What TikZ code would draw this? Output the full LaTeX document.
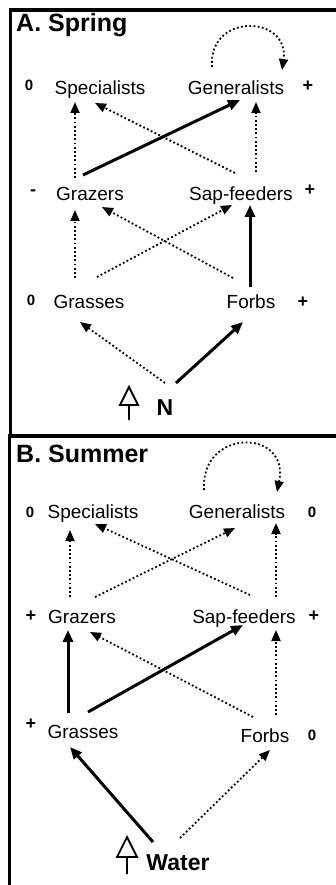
\documentclass[tikz,border=0pt]{standalone}
\usepackage{fontspec}
\setmainfont{Liberation Sans}
\usetikzlibrary{arrows.meta}
\begin{document}
\begin{tikzpicture}[x=1pt,y=-1pt,
  lbl/.style={font=\fontsize{19}{19}\selectfont, inner sep=0pt, anchor=base},
  sgn/.style={font=\bfseries\fontsize{15}{15}\selectfont, inner sep=0pt, anchor=center},
  psgn/.style={font=\bfseries\fontsize{18}{18}\selectfont, inner sep=0pt, anchor=center},
  ttl/.style={font=\bfseries\fontsize{25}{25}\selectfont, inner sep=0pt, anchor=base west},
  drv/.style={font=\bfseries\fontsize{23}{23}\selectfont, inner sep=0pt, anchor=base},
  dotarr/.style={line width=1.8pt, dash pattern=on 1.8pt off 2.4pt, -{Triangle[length=11pt,width=9pt]}},
  solarr/.style={line width=3pt, -{Triangle[length=12pt,width=10pt]}},
  border/.style={line width=3.5pt},
  uparr/.style={line width=1.8pt, line join=miter}
]
\useasboundingbox (0,0) rectangle (336,885);
% panel borders
\draw[line width=2.5pt] (10.5,9) -- (10.5,436);
\draw[border] (9,10) -- (336,10);
\draw[line width=3pt] (9,436) -- (9,885);
\draw[border] (7.5,436) -- (336,436);

% ---------------- Panel A ----------------
\node[ttl] (titleA) at (16,32) {A. Spring};
\node[lbl] (specA) at (100,95) {Specialists};
\node[lbl] (genA) at (236,95) {Generalists};
\node[lbl] (grazA) at (90,201) {Grazers};
\node[lbl] (sapA) at (241,201) {Sap-feeders};
\node[lbl] (grasA) at (89,308) {Grasses};
\node[lbl] (forbA) at (251,308) {Forbs};
\node[drv] (nA) at (165,415) {N};
\node[sgn] (sSpecA) at (29,85) {0};
\node[psgn] (sGenA) at (308,86) {+};
\node[psgn] (sGrazA) at (33,193) {-};
\node[psgn] (sSapA) at (310,190) {+};
\node[sgn] (sGrasA) at (31,300) {0};
\node[psgn] (sForbA) at (303,302) {+};
\draw[uparr] (120,405) -- (129,387) -- (138,405) -- cycle (129,405) -- (129,420);

\draw[dotarr] ([shift={(-15,-23)}]grazA.base) -- ([shift={(-25,7)}]specA.base);
\draw[solarr] ([shift={(-7,-26)}]grazA.base) -- ([shift={(4,5)}]genA.base);
\draw[dotarr] ([shift={(-6,-28)}]sapA.base) -- ([shift={(-5,8)}]specA.base);
\draw[dotarr] ([shift={(15,-29)}]sapA.base) -- ([shift={(20,7)}]genA.base);
\draw[dotarr] ([shift={(-14,-30)}]grasA.base) -- ([shift={(-15,9)}]grazA.base);
\draw[dotarr] ([shift={(-18,-30)}]forbA.base) -- ([shift={(12,6)}]grazA.base);
\draw[dotarr] ([shift={(8,-31)}]grasA.base) -- ([shift={(-9,4)}]sapA.base);
\draw[solarr] ([shift={(-1,-21)}]forbA.base) -- ([shift={(9,4)}]sapA.base);
\draw[dotarr] ([shift={(0,-32)}]nA.base) -- ([shift={(-9,14)}]grasA.base);
\draw[solarr] ([shift={(11,-32)}]nA.base) -- ([shift={(-8,14)}]forbA.base);
\draw[dotarr] ([shift={(-24,-28)}]genA.base) .. controls (208,12) and (290,15) .. ([shift={(46,-25)}]genA.base);

% ---------------- Panel B ----------------
\node[ttl] (titleB) at (16,462) {B. Summer};
\node[lbl] (specB) at (93,518) {Specialists};
\node[lbl] (genB) at (237,518) {Generalists};
\node[lbl] (grazB) at (82,623) {Grazers};
\node[lbl] (sapB) at (244,623) {Sap-feeders};
\node[lbl] (grasB) at (83,738) {Grasses};
\node[lbl] (forbB) at (265,742) {Forbs};
\node[drv] (water) at (178,870) {Water};
\node[sgn] (sSpecB) at (30,512) {0};
\node[sgn] (sGenB) at (312,512) {0};
\node[psgn] (sGrazB) at (31,616) {+};
\node[psgn] (sSapB) at (314,616) {+};
\node[psgn] (sGrasB) at (31,724) {+};
\node[sgn] (sForbB) at (312,735) {0};
\draw[uparr] (117,857) -- (127,837) -- (137,857) -- cycle (127,857) -- (127,874);

\draw[dotarr] ([shift={(-12,-26)}]grazB.base) -- ([shift={(-23,12)}]specB.base);
\draw[dotarr] ([shift={(13,-26)}]grazB.base) -- ([shift={(-2,10)}]genB.base);
\draw[dotarr] ([shift={(6,-28)}]sapB.base) -- ([shift={(2,6)}]specB.base);
\draw[dotarr] ([shift={(32,-26)}]sapB.base) -- ([shift={(39,5)}]genB.base);
\draw[solarr] ([shift={(-15,-25)}]grasB.base) -- ([shift={(-14,7)}]grazB.base);
\draw[solarr] ([shift={(5,-26)}]grasB.base) -- ([shift={(-1,2)}]sapB.base);
\draw[dotarr] ([shift={(-12,-25)}]forbB.base) -- ([shift={(8,9)}]grazB.base);
\draw[dotarr] ([shift={(11,-27)}]forbB.base) -- ([shift={(32,7)}]sapB.base);
\draw[solarr] ([shift={(-25,-28)}]water.base) -- ([shift={(-13,9)}]grasB.base);
\draw[dotarr] ([shift={(2,-32)}]water.base) -- ([shift={(5,8)}]forbB.base);
\draw[dotarr] ([shift={(-33,-28)}]genB.base) .. controls (200,428) and (290,428) .. ([shift={(40,-26)}]genB.base);
\end{tikzpicture}
\end{document}
